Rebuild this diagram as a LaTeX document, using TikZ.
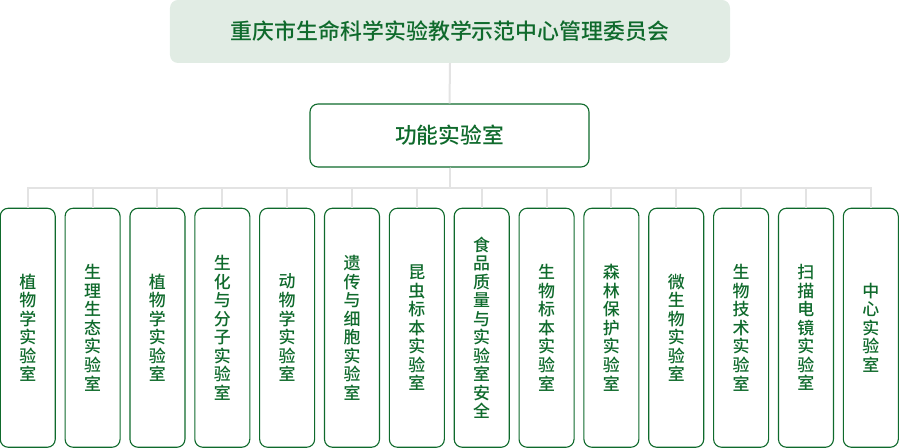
\documentclass[tikz,border=0pt]{standalone}
\usepackage{fontspec}
\setmainfont{Noto Sans CJK SC}[BoldFont={Noto Sans CJK SC Medium}]
\usepackage{xcolor}
\usepackage{tikz}
\usetikzlibrary{positioning,calc}

\definecolor{labgreen}{HTML}{0F6A2C}
\definecolor{headfill}{HTML}{E1ECE4}
\definecolor{wire}{HTML}{E3E3E3}

\begin{document}
\begin{tikzpicture}[x=1bp, y=1bp,
    headbox/.style={fill=headfill, rounded corners=8bp, minimum width=560bp, minimum height=63bp,
        text=labgreen, font=\fontsize{22}{24}\selectfont\bfseries},
    unitbox/.style={draw=labgreen, line width=1.1bp, fill=white, rounded corners=8bp,
        minimum width=279bp, minimum height=63bp, text=labgreen, font=\fontsize{21.8}{24}\selectfont\bfseries},
    labbox/.style={draw=labgreen, line width=1.1bp, fill=white, rounded corners=8bp,
        minimum width=55bp, minimum height=239bp, inner sep=0pt, align=center,
        text=labgreen, font=\fontsize{17}{18.6}\selectfont\bfseries},
    wireline/.style={draw=wire, line width=2bp}]
    \useasboundingbox (0,0) rectangle (899,-448);

    % Committee and functional labs
    \node[headbox] (council) at (450,-31.5) {重庆市生命科学实验教学示范中心管理委员会};
    \node[unitbox] (func) at (449.5,-135.5) {功能实验室};
    \draw[wireline] (council.south) -- (func.north);

    % Individual labs
    \foreach \name [count=\i from 0] in {%
        {植\\物\\学\\实\\验\\室},
        {生\\理\\生\\态\\实\\验\\室},
        {植\\物\\学\\实\\验\\室},
        {生\\化\\与\\分\\子\\实\\验\\室},
        {动\\物\\学\\实\\验\\室},
        {遗\\传\\与\\细\\胞\\实\\验\\室},
        {昆\\虫\\标\\本\\实\\验\\室},
        {食\\品\\质\\量\\与\\实\\验\\室\\安\\全},
        {生\\物\\标\\本\\实\\验\\室},
        {森\\林\\保\\护\\实\\验\\室},
        {微\\生\\物\\实\\验\\室},
        {生\\物\\技\\术\\实\\验\\室},
        {扫\\描\\电\\镜\\实\\验\\室},
        {中\\心\\实\\验\\室}}
    {
        \node[labbox] (lab\i) at (27.75+\i*64.85,-327.75) {\name};
        \draw[wireline] (func.south) -- ++(0,-20.5) -| (lab\i.north);
    }
\end{tikzpicture}
\end{document}
